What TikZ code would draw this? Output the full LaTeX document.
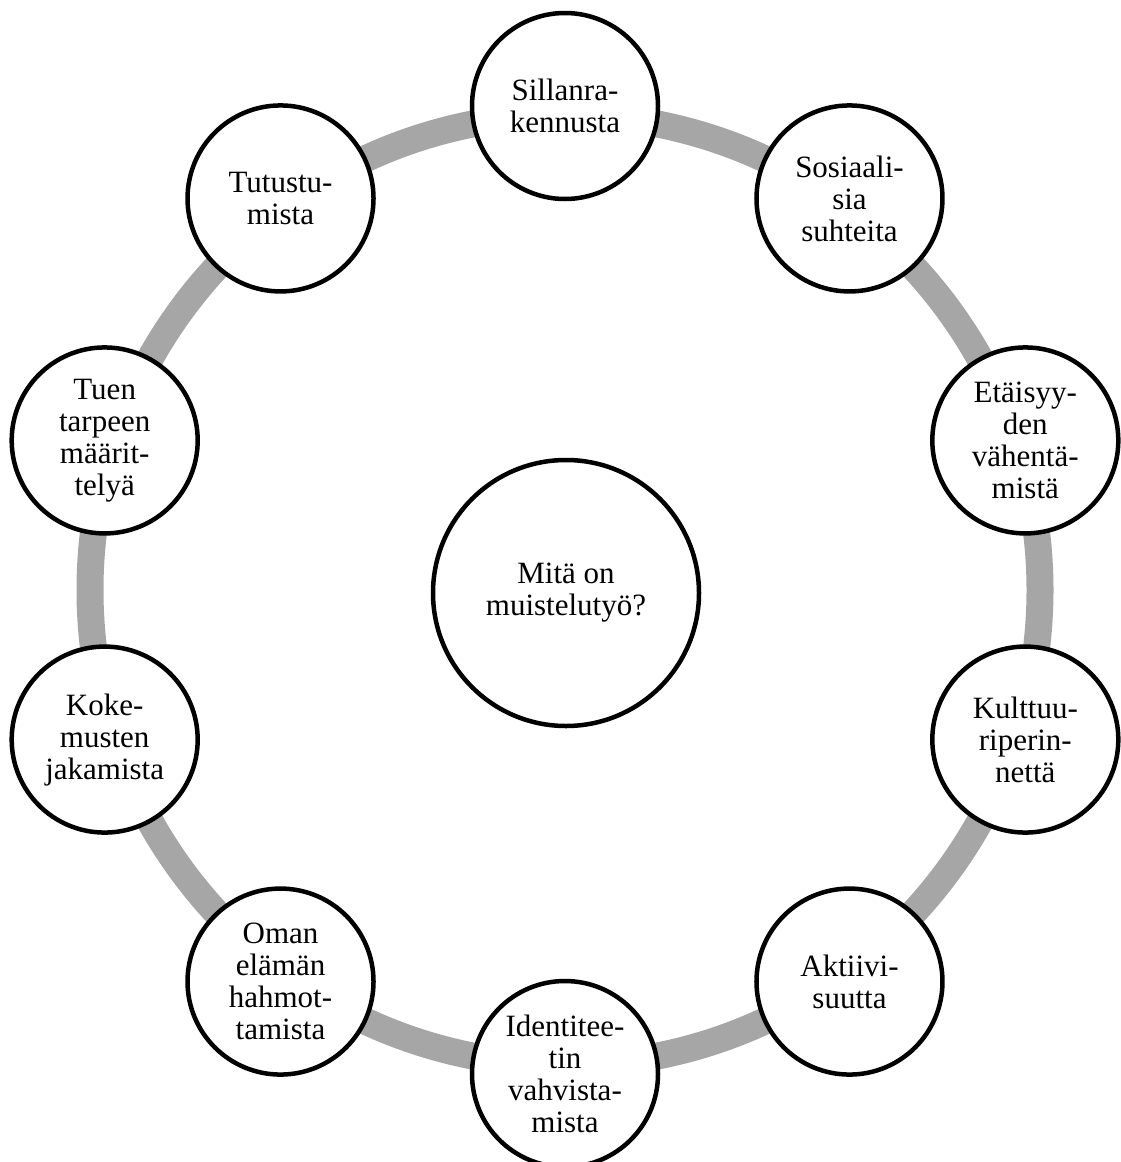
\documentclass[tikz,border=0pt]{standalone}
\usepackage{fontspec}
\setmainfont{Liberation Serif}
\definecolor{ringgray}{RGB}{166,166,166}
\begin{document}
\begin{tikzpicture}[x=1pt,y=-1pt,
  bubble/.style={circle,draw=black,line width=4.5pt,fill=white,minimum size=186pt,inner sep=0pt,align=center,font=\fontsize{31}{32}\selectfont},
  hub/.style={bubble,minimum size=266pt}]
\useasboundingbox (0,0) rectangle (1121,1162);
\fill[white] (0,0) rectangle (1121,1162);
\coordinate (c) at (565,590);
\draw[ringgray,line width=27pt] (c) circle[radius=475pt];
\node[hub] (hub) at (566,593) {Mitä on\\muistelutyö?};
\node[bubble] (n0) at ({565+484*cos(90)},{590-484*sin(90)}) {Sillanra-\\kennusta};
\node[bubble] (n1) at ({565+484*cos(54)},{590-484*sin(54)}) {Sosiaali-\\sia\\suhteita};
\node[bubble] (n2) at ({565+484*cos(18)},{590-484*sin(18)}) {Etäisyy-\\den\\vähentä-\\mistä};
\node[bubble] (n3) at ({565+484*cos(-18)},{590-484*sin(-18)}) {Kulttuu-\\riperin-\\nettä};
\node[bubble] (n4) at ({565+484*cos(-54)},{590-484*sin(-54)}) {Aktiivi-\\suutta};
\node[bubble] (n5) at ({565+484*cos(-90)},{590-484*sin(-90)}) {Identitee-\\tin\\vahvista-\\mista};
\node[bubble] (n6) at ({565+484*cos(-126)},{590-484*sin(-126)}) {Oman\\elämän\\hahmot-\\tamista};
\node[bubble] (n7) at ({565+484*cos(-162)},{590-484*sin(-162)}) {Koke-\\musten\\jakamista};
\node[bubble] (n8) at ({565+484*cos(162)},{590-484*sin(162)}) {Tuen\\tarpeen\\määrit-\\telyä};
\node[bubble] (n9) at ({565+484*cos(126)},{590-484*sin(126)}) {Tutustu-\\mista};
\end{tikzpicture}
\end{document}
